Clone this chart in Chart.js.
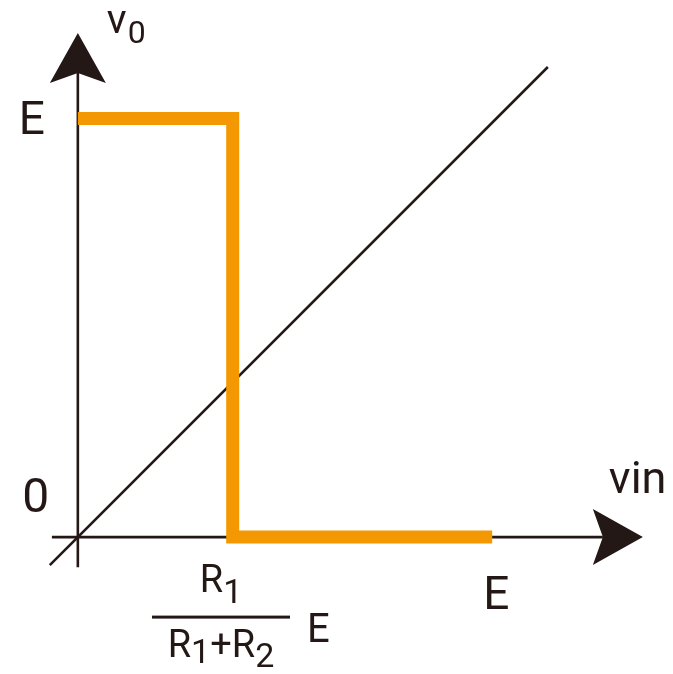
<!DOCTYPE html>
<html>
<head>
<meta charset="utf-8">
<script src="https://cdn.jsdelivr.net/npm/chart.js@4"></script>
<style>
  html, body { margin: 0; padding: 0; background: #fff; }
  #chart { display: block; }
</style>
</head>
<body>
<canvas id="chart" width="673" height="674"></canvas>
<script>
// everything in units of E
const outX = [0, 0.37, 0.37, 0.99];      // orange output curve
const outY = [1, 1, 0, 0];
const diagX = [-0.067, 1.123];           // v0 = vin line
const diagY = [-0.067, 1.123];

const xRange = [-0.186, 1.422];
const yRange = [-0.327, 1.283];
const xAxisFrom = -0.062, xAxisTip = 1.35;
const yAxisFrom = -0.072, yAxisTip = 1.204;

const xTickVals = [1];
const xTickLabels = ['E'];
const yTickVals = [1];
const yTickLabels = ['E'];
const threshold = 0.342;   // where the R1/(R1+R2) E label sits

const black = '#231815';
const orange = '#f39800';
const fontName = 'Roboto, "Noto Sans", sans-serif';

function pts(xs, ys) {
    return xs.map((v, i) => ({ x: v, y: ys[i] }));
}

function arrow(ctx, tx, ty, dx, dy) {
    const len = 50, half = 28, notch = 40;
    const px = -dy, py = dx;
    ctx.beginPath();
    ctx.moveTo(tx, ty);
    ctx.lineTo(tx - dx * len + px * half, ty - dy * len + py * half);
    ctx.lineTo(tx - dx * notch, ty - dy * notch);
    ctx.lineTo(tx - dx * len - px * half, ty - dy * len - py * half);
    ctx.closePath();
    ctx.fill();
}

function txt(ctx, s, x, y, size, align) {
    ctx.font = size + 'px ' + fontName;
    ctx.textAlign = align || 'left';
    ctx.fillText(s, x, y);
    return ctx.measureText(s).width;
}

// draw a run of [text, size, baselineShift] centred on cx
function run(ctx, parts, cx, base) {
    let w = 0;
    parts.forEach(p => { ctx.font = p[1] + 'px ' + fontName; w += ctx.measureText(p[0]).width; });
    let x = cx - w / 2;
    parts.forEach(p => { x += txt(ctx, p[0], x, base + p[2], p[1], 'left'); });
}

const axesPlugin = {
    id: 'axes',
    beforeDatasetsDraw(chart) {
        const ctx = chart.ctx, sx = chart.scales.x, sy = chart.scales.y;
        const ox = sx.getPixelForValue(0), oy = sy.getPixelForValue(0);
        const xt = sx.getPixelForValue(xAxisTip), yt = sy.getPixelForValue(yAxisTip);
        ctx.save();
        ctx.strokeStyle = black;
        ctx.fillStyle = black;
        ctx.lineWidth = 2.6;
        ctx.beginPath();
        ctx.moveTo(sx.getPixelForValue(xAxisFrom), oy);
        ctx.lineTo(xt - 40, oy);
        ctx.moveTo(ox, sy.getPixelForValue(yAxisFrom));
        ctx.lineTo(ox, yt + 40);
        ctx.stroke();
        arrow(ctx, xt, oy, 1, 0);
        arrow(ctx, ox, yt, 0, -1);
        ctx.restore();
    },
    afterDatasetsDraw(chart) {
        const ctx = chart.ctx, sx = chart.scales.x, sy = chart.scales.y;
        const ox = sx.getPixelForValue(0), oy = sy.getPixelForValue(0);
        ctx.save();
        ctx.fillStyle = black;
        ctx.textBaseline = 'alphabetic';

        // axis names
        const yt = sy.getPixelForValue(yAxisTip);
        let w = txt(ctx, 'v', ox + 29, yt, 41);
        txt(ctx, '0', ox + 29 + w + 1, yt + 10, 32);
        txt(ctx, 'vin', sx.getPixelForValue(xAxisTip) - 34, oy - 44, 45);

        // origin and E ticks
        txt(ctx, '0', ox - 42, oy - 25, 48, 'center');
        yTickVals.forEach((v, i) => txt(ctx, yTickLabels[i], ox - 46, sy.getPixelForValue(v) + 16, 46, 'center'));
        xTickVals.forEach((v, i) => txt(ctx, xTickLabels[i], sx.getPixelForValue(v), oy + 72, 46, 'center'));

        // R1/(R1+R2) E
        const cx = sx.getPixelForValue(threshold);
        run(ctx, [['R', 38, 0], ['1', 34, 11]], cx, oy + 55);
        run(ctx, [['R', 38, 0], ['1', 34, 6], ['+', 38, 0], ['R', 38, 0], ['2', 34, 10]], cx, oy + 120);
        ctx.fillRect(cx - 69, oy + 78.5, 138, 3);
        txt(ctx, 'E', cx + 86, oy + 105, 40);
        ctx.restore();
    }
};

new Chart(document.getElementById('chart'), {
    type: 'line',
    data: {
        datasets: [{
            data: pts(outX, outY),
            borderColor: orange,
            borderWidth: 13,
            borderCapStyle: 'butt',
            borderJoinStyle: 'miter',
            pointRadius: 0,
            tension: 0
        }, {
            data: pts(diagX, diagY),
            borderColor: black,
            borderWidth: 2.6,
            pointRadius: 0,
            tension: 0
        }]
    },
    options: {
        responsive: false,
        animation: false,
        events: [],
        layout: { padding: 0 },
        plugins: { legend: { display: false }, tooltip: { enabled: false } },
        scales: {
            x: { type: 'linear', min: xRange[0], max: xRange[1], display: false },
            y: { type: 'linear', min: yRange[0], max: yRange[1], display: false }
        }
    },
    plugins: [axesPlugin]
});
</script>
</body>
</html>
